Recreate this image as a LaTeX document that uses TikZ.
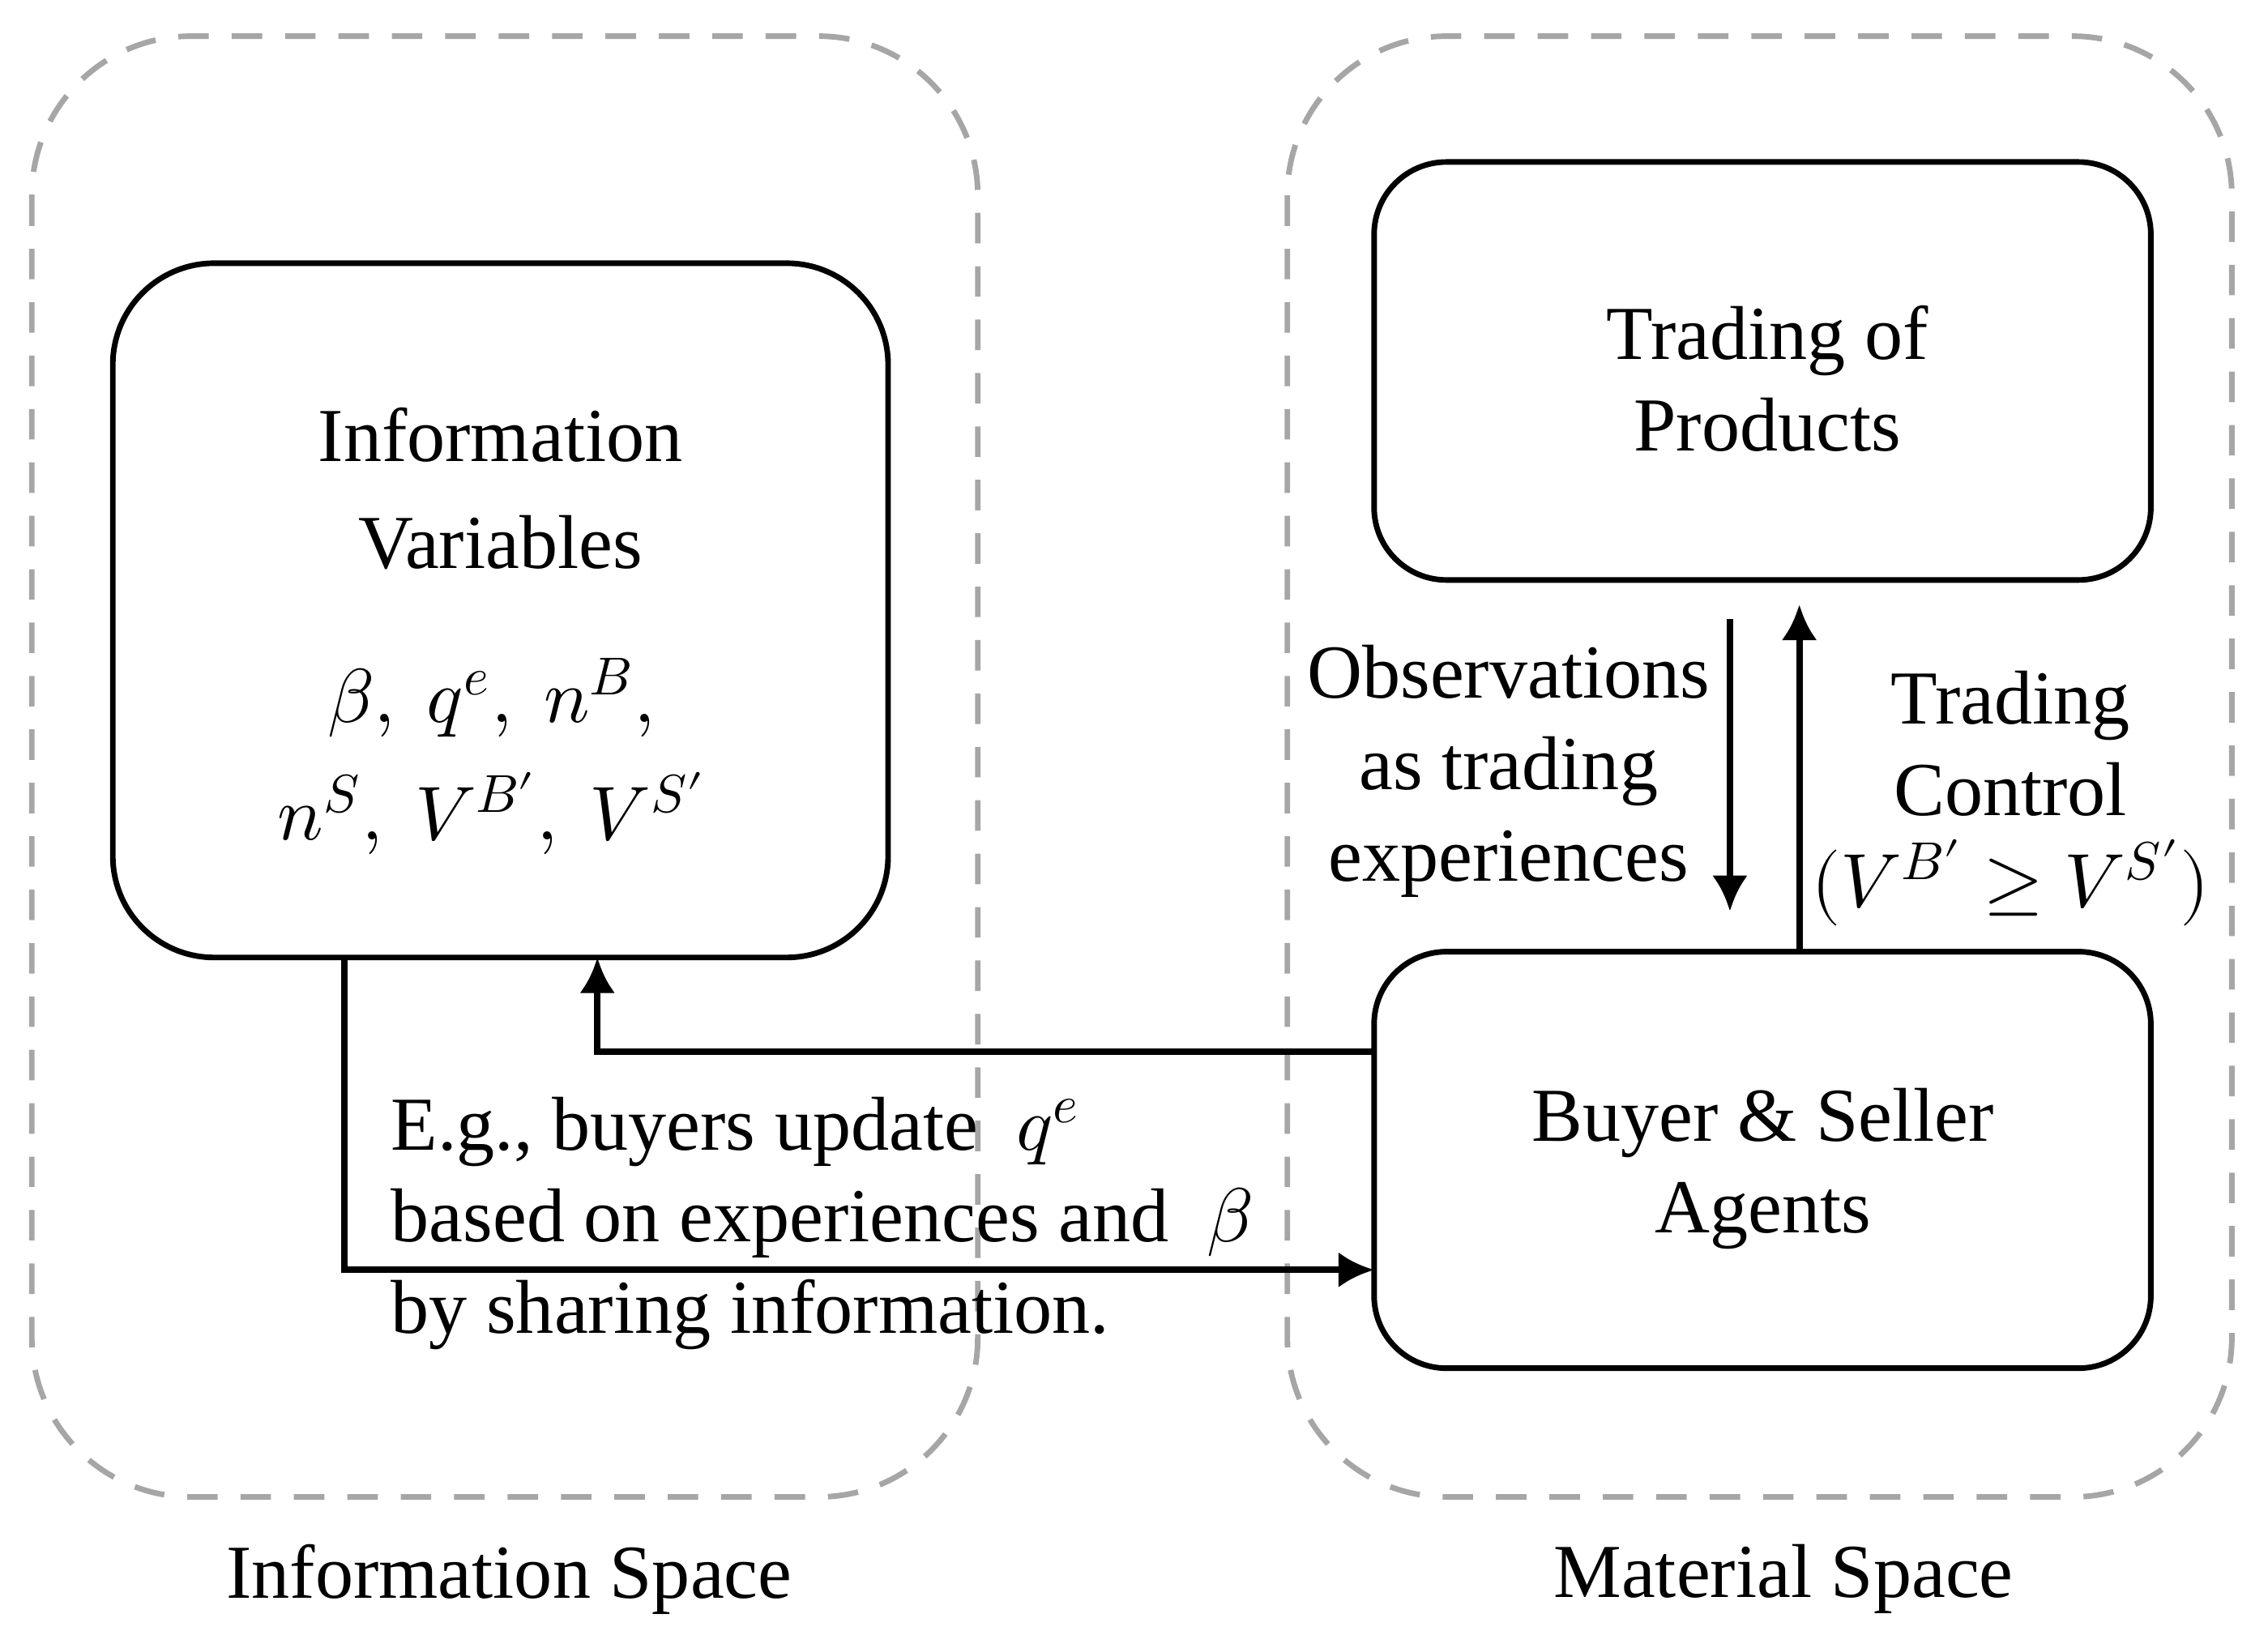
\documentclass[tikz,border=0pt]{standalone}
\usetikzlibrary{arrows.meta}
\usepackage{fontspec}
\usepackage{unicode-math}
\setmainfont{Liberation Serif}
\setmathfont{Latin Modern Math}
\begin{document}
\begin{tikzpicture}[x=0.01cm,y=-0.01cm,
 space/.style={draw=black!35,dash pattern=on 6pt off 4.5pt,line width=1.1pt,rounded corners=1.1cm},
 box/.style={draw,line width=1.1pt},
 arr/.style={line width=1.3pt,-{Latex[length=7pt,width=7pt]}},
 txt/.style={font=\fontsize{15}{18}\selectfont,align=center}]
\useasboundingbox (0,0) rectangle (1568,1139);
\draw[space] (22,25) rectangle (676,1035);
\draw[space] (890,25) rectangle (1543,1035);
\draw[box,rounded corners=0.7cm] (78,182) rectangle (614,662);
\draw[box,rounded corners=0.5cm] (950,112) rectangle (1487,401);
\draw[box,rounded corners=0.5cm] (950,658) rectangle (1487,946);
\coordinate (infoB) at (413,662);
\coordinate (buyL) at (950,878);
\node[txt] (iv) at (346,338) {Information\\[3pt]Variables};
\node[txt] (vars) at (340,523) {$\beta,\ q^e,\ n^B,$\\[5pt]$n^S,\ V^{B\prime},\ V^{S\prime}$};
\node[txt] (tp) at (1222,262) {Trading of\\Products};
\node[txt] (ba) at (1219,808) {Buyer \& Seller\\Agents};
\node[txt] (obs) at (1043,533) {Observations\\as trading\\experiences};
\node[txt] (tc) at (1390,552) {Trading\\Control\\$(V^{B\prime}\geq V^{S\prime})$};
\node[txt,align=left,anchor=west] (eg) at (258,846) {E.g., buyers update \ $q^e$\\based on experiences and \ $\beta$\\by sharing information.};
\node[txt] (is) at (352,1092) {Information Space};
\node[txt] (ms) at (1233,1092) {Material Space};
\draw[arr] (1196,428) -- (1196,630);
\draw[arr] (1244,658) -- (1244,418);
\draw[arr] (950,727) -- (413,727) -- (infoB);
\draw[arr] (238,662) -- (238,878) -- (buyL);
\end{tikzpicture}
\end{document}
